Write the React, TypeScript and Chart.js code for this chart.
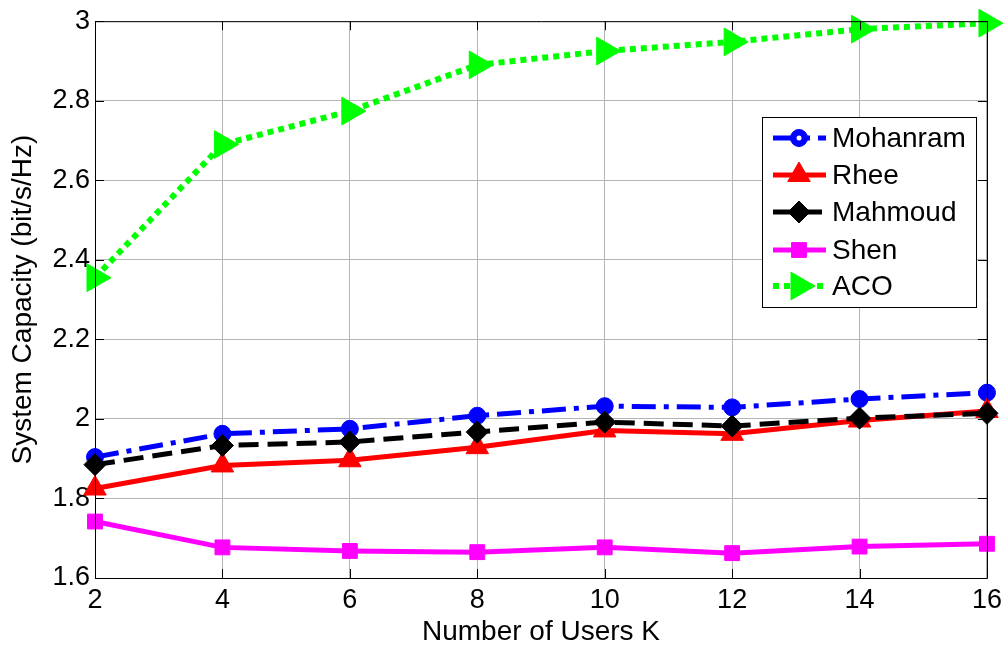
import { useEffect, useRef } from "react";
import { Chart, registerables } from "chart.js";

Chart.register(...registerables);

const usersK = [2, 4, 6, 8, 10, 12, 14, 16];
const mohanram = [1.904, 1.9625, 1.975, 2.008, 2.032, 2.029, 2.05, 2.066];
const rhee = [1.825, 1.883, 1.896, 1.929, 1.971, 1.9625, 1.996, 2.02];
const mahmoud = [1.885, 1.933, 1.942, 1.967, 1.992, 1.982, 2.002, 2.014];
const shen = [1.742, 1.677, 1.668, 1.665, 1.677, 1.6625, 1.679, 1.686];
const aco = [2.355, 2.69, 2.774, 2.89, 2.925, 2.948, 2.98, 2.995];
const xTicks = [2, 4, 6, 8, 10, 12, 14, 16];
const yTicks = [1.6, 1.8, 2, 2.2, 2.4, 2.6, 2.8, 3];
const seriesNames = ["Mohanram", "Rhee", "Mahmoud", "Shen", "ACO"];

const FONT = "'Liberation Sans', Arial, Helvetica, sans-serif";

type Marker = "circle" | "triangle" | "diamond" | "square" | "triRight";

const seriesStyle = [
  { color: "#0000ff", dash: [24, 8, 5, 8], marker: "circle" as Marker, r: 8.5, width: 5 },
  { color: "#ff0000", dash: [] as number[], marker: "triangle" as Marker, r: 13, width: 5 },
  { color: "#000000", dash: [20, 9], marker: "diamond" as Marker, r: 11, width: 5 },
  { color: "#ff00ff", dash: [] as number[], marker: "square" as Marker, r: 10.5, width: 5 },
  { color: "#00ff00", dash: [6, 5], marker: "triRight" as Marker, r: 16, width: 6 },
];

function chartPointStyle(m: Marker): any {
  if (m === "circle") return "circle";
  if (m === "triangle" || m === "triRight") return "triangle";
  if (m === "diamond") return "rectRot";
  return "rect";
}

function drawMarker(ctx: CanvasRenderingContext2D, m: Marker, x: number, y: number, r: number, color: string) {
  ctx.save();
  ctx.setLineDash([]);
  ctx.fillStyle = color;
  ctx.strokeStyle = color;
  ctx.lineWidth = 1;
  ctx.beginPath();
  if (m === "circle") {
    ctx.arc(x, y, r, 0, Math.PI * 2);
  } else if (m === "triangle" || m === "triRight") {
    const rot = m === "triRight" ? Math.PI / 2 : 0;
    for (let i = 0; i < 3; i++) {
      const a = rot + (i * 2 * Math.PI) / 3;
      const px = x + Math.sin(a) * r;
      const py = y - Math.cos(a) * r;
      if (i === 0) ctx.moveTo(px, py);
      else ctx.lineTo(px, py);
    }
    ctx.closePath();
  } else if (m === "diamond") {
    ctx.moveTo(x, y - r);
    ctx.lineTo(x + r, y);
    ctx.lineTo(x, y + r);
    ctx.lineTo(x - r, y);
    ctx.closePath();
  } else {
    const s = r * Math.SQRT1_2;
    ctx.rect(x - s, y - s, 2 * s, 2 * s);
  }
  ctx.fill();
  ctx.stroke();
  ctx.restore();
}

const boxPlugin = {
  id: "matlabBox",
  afterDraw(chart: any) {
    const { ctx, chartArea } = chart;
    const { left, right, top, bottom } = chartArea;
    const xs = chart.scales.x;
    const ys = chart.scales.y;
    ctx.save();
    ctx.strokeStyle = "#000";
    ctx.lineWidth = 1;
    ctx.setLineDash([]);
    ctx.beginPath();
    ctx.rect(left + 0.5, top + 0.5, right - left, bottom - top);
    ctx.stroke();
    const tl = 9;
    ctx.beginPath();
    for (const v of xTicks) {
      const px = Math.round(xs.getPixelForValue(v)) + 0.5;
      ctx.moveTo(px, bottom);
      ctx.lineTo(px, bottom - tl);
      ctx.moveTo(px, top);
      ctx.lineTo(px, top + tl);
    }
    for (const v of yTicks) {
      const py = Math.round(ys.getPixelForValue(v)) + 0.5;
      ctx.moveTo(left, py);
      ctx.lineTo(left + tl, py);
      ctx.moveTo(right, py);
      ctx.lineTo(right - tl, py);
    }
    ctx.stroke();

    // legend
    const lx0 = 762, ly0 = 117, lx1 = 976, ly1 = 307;
    ctx.fillStyle = "#fff";
    ctx.fillRect(lx0, ly0, lx1 - lx0, ly1 - ly0);
    ctx.strokeStyle = "#000";
    ctx.lineWidth = 1;
    ctx.strokeRect(lx0 + 0.5, ly0 + 0.5, lx1 - lx0, ly1 - ly0);
    const rowY = [138, 175, 212, 250, 286];
    seriesNames.forEach((name, i) => {
      const st = seriesStyle[i];
      const y = rowY[i];
      ctx.save();
      ctx.strokeStyle = st.color;
      ctx.lineWidth = st.width;
      ctx.setLineDash(st.dash);
      ctx.beginPath();
      ctx.moveTo(773, y);
      ctx.lineTo(826, y);
      ctx.stroke();
      ctx.restore();
      drawMarker(ctx, st.marker, 799, y, st.r, st.color);
      if (st.marker === "circle") {
        ctx.save();
        ctx.fillStyle = "#fff";
        ctx.beginPath();
        ctx.arc(799, y, 2.5, 0, Math.PI * 2);
        ctx.fill();
        ctx.restore();
      }
      ctx.fillStyle = "#000";
      ctx.font = `28px ${FONT}`;
      ctx.textBaseline = "middle";
      ctx.textAlign = "left";
      ctx.fillText(name, 832, y + 1);
    });
    ctx.restore();
  },
};

export default function App() {
  const ref = useRef<HTMLCanvasElement | null>(null);
  useEffect(() => {
    if (!ref.current) return;
    const seriesData = [mohanram, rhee, mahmoud, shen, aco];
    const chart = new Chart(ref.current, {
      type: "line",
      data: {
        datasets: seriesData.map((arr, i) => {
          const st = seriesStyle[i];
          return {
            label: seriesNames[i],
            data: usersK.map((k, j) => ({ x: k, y: arr[j] })),
            borderColor: st.color,
            backgroundColor: st.color,
            borderWidth: st.width,
            borderDash: st.dash,
            borderCapStyle: "butt",
            pointStyle: chartPointStyle(st.marker),
            pointRotation: st.marker === "triRight" ? 90 : 0,
            pointRadius: st.r,
            pointBorderWidth: 1,
            pointBackgroundColor: st.color,
            pointBorderColor: st.color,
            tension: 0,
            fill: false,
            clip: false,
            order: 5 - i,
          } as any;
        }),
      },
      options: {
        animation: false,
        responsive: false,
        layout: { padding: { top: 20, right: 20, left: 0, bottom: 0 } },
        plugins: { legend: { display: false }, tooltip: { enabled: false } },
        scales: {
          x: {
            type: "linear",
            min: 2,
            max: 16,
            afterFit: (s: any) => {
              s.height = 71;
            },
            afterBuildTicks: (s: any) => {
              s.ticks = xTicks.map((v) => ({ value: v }));
            },
            ticks: {
              color: "#000",
              font: { family: FONT, size: 27 },
              padding: 6,
              maxRotation: 0,
              callback: (v: any) => String(v),
            },
            grid: {
              drawTicks: false,
              color: "#b4b4b4",
              lineWidth: 1,
            },
            border: { display: true, color: "#000" },
            title: {
              display: true,
              text: "Number of Users K",
              color: "#000",
              font: { family: FONT, size: 28 },
              padding: { top: 0, bottom: 0 },
            },
          },
          y: {
            type: "linear",
            min: 1.6,
            max: 3,
            afterFit: (s: any) => {
              s.width = 95;
            },
            afterBuildTicks: (s: any) => {
              s.ticks = yTicks.map((v) => ({ value: v }));
            },
            ticks: {
              color: "#000",
              font: { family: FONT, size: 27 },
              padding: 5,
              callback: (v: any) => String(Number(Number(v).toFixed(1))),
            },
            grid: {
              drawTicks: false,
              color: "#b4b4b4",
              lineWidth: 1,
            },
            border: { display: true, color: "#000" },
            title: {
              display: true,
              text: "System Capacity (bit/s/Hz)",
              color: "#000",
              font: { family: FONT, size: 28 },
              padding: { top: 6, bottom: 0 },
            },
          },
        },
      },
      plugins: [boxPlugin],
    });
    return () => chart.destroy();
  }, []);
  return (
    <div style={{ position: "absolute", left: 0, top: 0, width: 1008, height: 649, background: "#fff" }}>
      <canvas ref={ref} width={1008} height={649} />
    </div>
  );
}
